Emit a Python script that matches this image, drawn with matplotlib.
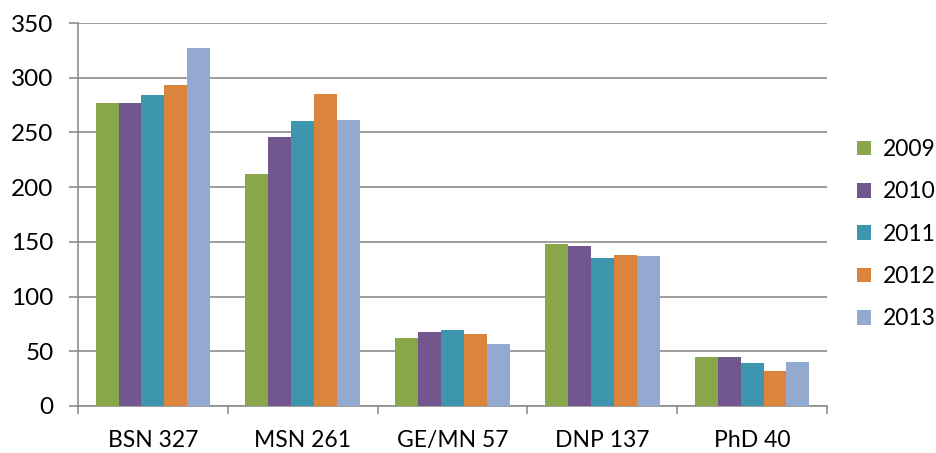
import matplotlib
matplotlib.use("Agg")
import matplotlib.pyplot as plt
from matplotlib.patches import Patch
import numpy as np

categories = ["BSN 327", "MSN 261", "GE/MN 57", "DNP 137", "PhD 40"]
years = ["2009", "2010", "2011", "2012", "2013"]
v2009 = [277, 212, 62, 148, 45]
v2010 = [277, 246, 68, 146, 45]
v2011 = [284, 260, 69, 135, 39]
v2012 = [293, 285, 66, 138, 32]
v2013 = [327, 261, 57, 137, 40]
series = [v2009, v2010, v2011, v2012, v2013]
colors = ["#8AA64A", "#72578F", "#3E96AE", "#DB843C", "#93A9CF"]

plt.rcParams['font.family'] = ['Lato', 'DejaVu Sans']

fig = plt.figure(figsize=(9.36, 4.53), dpi=100)
ax = fig.add_axes([78/936, 47/453, (827-78)/936, (406-23)/453])

x = np.arange(len(categories))
w = 0.153
for i, (vals, c) in enumerate(zip(series, colors)):
    ax.bar(x + (i - 2) * w, vals, width=w, color=c, label=years[i], zorder=3)

ax.set_xlim(-0.5, len(categories) - 0.5)
ax.set_ylim(0, 350)
ax.set_yticks(np.arange(0, 351, 50))
ax.yaxis.grid(True, color="#8c8c8c", linewidth=1.2, zorder=0)
ax.set_axisbelow(True)

ax.set_xticks(x)
ax.set_xticklabels(categories, fontsize=16.5)
ax.set_xticks(np.arange(-0.5, len(categories)), minor=True)
ax.tick_params(axis='x', which='major', length=0, pad=17)
ax.tick_params(axis='x', which='minor', length=6, color="#8c8c8c", width=1.2, direction='out')
ax.tick_params(axis='y', labelsize=17.5, length=6.5, color="#8c8c8c", width=1.2, pad=11)

for s in ["top", "right"]:
    ax.spines[s].set_visible(False)
for s in ["left", "bottom"]:
    ax.spines[s].set_color("#8c8c8c")
    ax.spines[s].set_linewidth(1.2)

handles = [Patch(facecolor=c, edgecolor='none') for c in colors]
fig.legend(handles, years, loc='upper left', bbox_to_anchor=(848/936, 1 - 130/453),
           frameon=False, fontsize=16.5, handlelength=0.6, handleheight=0.6,
           handletextpad=0.5, labelspacing=0.93, borderaxespad=0)

fig.savefig("out.png", dpi=100)
